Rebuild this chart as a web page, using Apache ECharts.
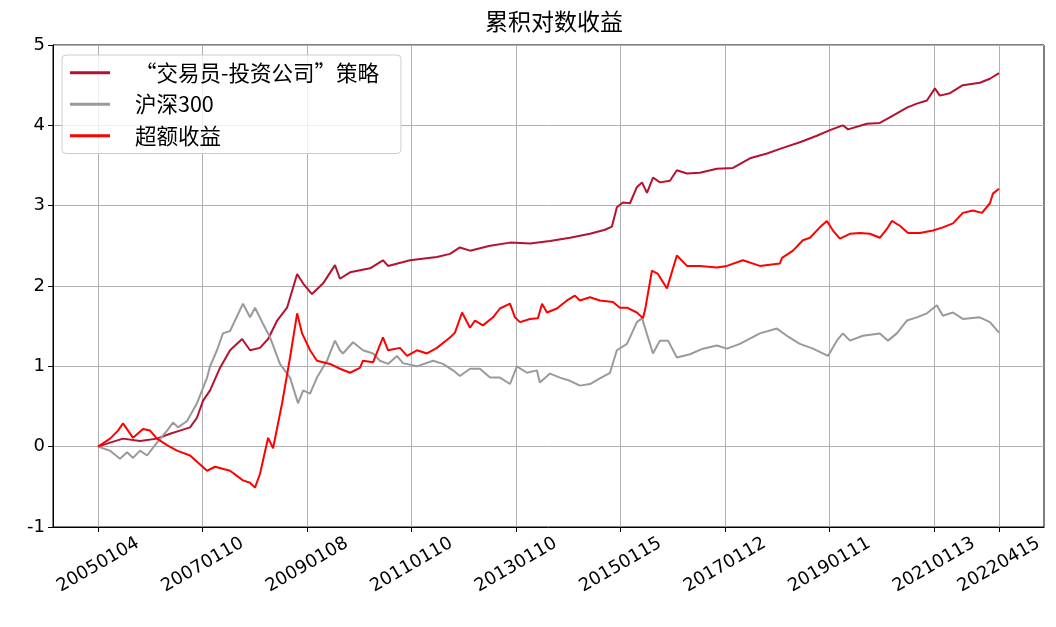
<!DOCTYPE html>
<html><head><meta charset="utf-8">
<script src="https://cdn.jsdelivr.net/npm/echarts@6/dist/echarts.min.js"></script>
<style>html,body{margin:0;padding:0;background:#fff}#c{width:1056px;height:627px}</style>
</head><body><div id="c"></div>
<script>
const titleText = '累积对数收益';
const seriesNames = ['“交易员-投资公司”策略', '沪深300', '超额收益'];
const tickIndex = [0, 486, 972, 1458, 1944, 2430, 2916, 3402, 3888, 4190];
const tickLabels = ['20050104', '20070110', '20090108', '20110110', '20130110', '20150115', '20170112', '20190111', '20210113', '20220415'];

const strategyIdx = [0,56,116,195,274,335,381,428,460,488,521,567,614,670,707,753,791,833,879,926,954,995,1046,1102,1125,1172,1265,1325,1349,1451,1576,1637,1683,1730,1823,1916,2009,2102,2195,2288,2358,2390,2413,2441,2474,2506,2530,2553,2581,2613,2660,2692,2739,2799,2878,2953,3032,3111,3185,3264,3343,3404,3464,3488,3576,3636,3697,3762,3808,3855,3892,3915,3962,4022,4101,4148,4190];
const strategyVal = [0,0.05,0.1,0.07,0.1,0.16,0.2,0.24,0.36,0.57,0.7,0.98,1.2,1.34,1.2,1.23,1.34,1.57,1.73,2.15,2.03,1.9,2.03,2.26,2.09,2.17,2.22,2.32,2.25,2.32,2.36,2.4,2.48,2.44,2.5,2.54,2.53,2.56,2.6,2.65,2.7,2.74,2.98,3.04,3.03,3.23,3.29,3.16,3.35,3.29,3.31,3.44,3.4,3.41,3.46,3.47,3.59,3.65,3.72,3.79,3.87,3.94,4.0,3.95,4.02,4.03,4.12,4.22,4.27,4.31,4.46,4.37,4.4,4.5,4.53,4.58,4.65];

const hs300Idx = [0,56,102,135,163,195,228,274,321,349,372,414,460,507,521,553,581,614,674,707,730,767,800,846,893,930,954,986,1018,1065,1102,1125,1139,1186,1232,1279,1311,1349,1390,1418,1483,1558,1604,1651,1683,1730,1776,1823,1869,1916,1948,1995,2041,2055,2102,2148,2195,2241,2288,2334,2381,2413,2460,2506,2530,2553,2581,2613,2651,2692,2753,2813,2878,2925,2985,3078,3157,3204,3264,3325,3395,3436,3464,3497,3557,3636,3674,3715,3762,3808,3855,3901,3929,3976,4022,4101,4148,4190];
const hs300Val = [0,-0.05,-0.15,-0.07,-0.14,-0.05,-0.11,0.05,0.2,0.3,0.24,0.32,0.54,0.86,1.0,1.2,1.41,1.44,1.78,1.61,1.73,1.53,1.36,1.03,0.86,0.54,0.7,0.66,0.86,1.07,1.32,1.2,1.16,1.3,1.2,1.16,1.07,1.03,1.13,1.04,1.0,1.07,1.03,0.95,0.88,0.97,0.97,0.86,0.86,0.78,1.0,0.92,0.95,0.8,0.91,0.86,0.82,0.76,0.78,0.85,0.92,1.2,1.28,1.55,1.6,1.4,1.16,1.32,1.32,1.11,1.15,1.22,1.26,1.22,1.28,1.41,1.47,1.38,1.28,1.22,1.13,1.32,1.41,1.32,1.38,1.41,1.32,1.41,1.57,1.61,1.66,1.76,1.63,1.67,1.59,1.61,1.55,1.42];

const excessIdx = [0,56,93,116,163,209,242,274,321,367,428,507,544,614,674,707,730,753,791,814,856,893,926,949,986,1018,1079,1125,1172,1218,1232,1279,1325,1349,1404,1437,1483,1530,1576,1637,1660,1693,1730,1753,1790,1837,1869,1916,1939,1962,2009,2046,2065,2088,2134,2181,2218,2241,2288,2334,2395,2427,2460,2506,2534,2544,2576,2604,2646,2692,2739,2799,2878,2925,2999,3078,3171,3181,3232,3278,3311,3357,3390,3418,3450,3497,3543,3590,3636,3669,3692,3729,3767,3822,3883,3929,3976,4022,4069,4111,4148,4162,4190];
const excessVal = [0,0.1,0.2,0.29,0.11,0.22,0.2,0.1,0.02,-0.05,-0.11,-0.3,-0.25,-0.3,-0.42,-0.45,-0.51,-0.34,0.11,-0.02,0.54,1.11,1.66,1.41,1.2,1.07,1.03,0.97,0.92,0.98,1.07,1.05,1.36,1.2,1.23,1.13,1.2,1.16,1.23,1.36,1.42,1.67,1.48,1.57,1.51,1.61,1.72,1.78,1.61,1.55,1.59,1.6,1.78,1.67,1.72,1.82,1.88,1.82,1.86,1.82,1.8,1.73,1.73,1.67,1.6,1.7,2.19,2.15,1.97,2.38,2.25,2.25,2.23,2.25,2.32,2.25,2.28,2.35,2.44,2.57,2.6,2.73,2.81,2.69,2.59,2.65,2.66,2.65,2.6,2.71,2.81,2.75,2.66,2.66,2.69,2.73,2.78,2.91,2.94,2.91,3.03,3.15,3.21];

function pairs(idx, val) { return idx.map((x, i) => [x, val[i]]); }
const labelMap = {};
tickIndex.forEach((v, i) => { labelMap[v] = tickLabels[i]; });

const chart = echarts.init(document.getElementById('c'), null, {renderer: 'canvas'});
const tickFont = 'DejaVu Sans';
chart.setOption({
  animation: false,
  backgroundColor: '#fff',
  title: {
    text: titleText, left: 549, textAlign: 'center', top: 5,
    textStyle: {fontFamily: 'Noto Sans CJK SC', fontWeight: 'normal', fontSize: 23, color: '#000'}
  },
  legend: {
    orient: 'vertical', left: 62, top: 55,
    padding: [7, 22, 7, 8],
    icon: 'rect',
    itemWidth: 40, itemHeight: 3, itemGap: 10,
    borderColor: '#cccccc', borderWidth: 1, borderRadius: 4,
    backgroundColor: 'rgba(255,255,255,0.8)',
    textStyle: {fontFamily: 'Noto Sans CJK SC', fontSize: 21.5, color: '#000', padding: [0, 0, 0, 20]},
    data: seriesNames
  },
  grid: {left: 53, right: 12, top: 45, bottom: 100, show: true, borderColor: '#000', borderWidth: 1, backgroundColor: 'transparent'},
  xAxis: {
    type: 'value', min: -209.5, max: 4399.5,
    axisLine: {show: true, onZero: false, lineStyle: {color: '#000'}},
    axisTick: {show: true, length: 5, lineStyle: {color: '#000'}, customValues: tickIndex},
    axisLabel: {
      customValues: tickIndex, rotate: 30, align: 'center', verticalAlign: 'middle', margin: 38,
      fontFamily: tickFont, fontSize: 18, color: '#000',
      formatter: v => labelMap[v] || ''
    },
    splitLine: {show: true, lineStyle: {color: '#b0b0b0', width: 1}}
  },
  yAxis: {
    type: 'value', min: -1, max: 5, interval: 1,
    axisLine: {show: true, onZero: false, lineStyle: {color: '#000'}},
    axisTick: {show: true, length: 5, lineStyle: {color: '#000'}},
    axisLabel: {fontFamily: tickFont, fontSize: 18, color: '#000', margin: 8},
    splitLine: {show: true, lineStyle: {color: '#b0b0b0', width: 1}}
  },
  series: [
    {name: seriesNames[0], type: 'line', showSymbol: false, symbol: 'none', data: pairs(strategyIdx, strategyVal),
     lineStyle: {color: '#b5122f', width: 2}, itemStyle: {color: '#b5122f'}, z: 2},
    {name: seriesNames[1], type: 'line', showSymbol: false, symbol: 'none', data: pairs(hs300Idx, hs300Val),
     lineStyle: {color: '#9a9a9a', width: 2}, itemStyle: {color: '#9a9a9a'}, z: 3},
    {name: seriesNames[2], type: 'line', showSymbol: false, symbol: 'none', data: pairs(excessIdx, excessVal),
     lineStyle: {color: '#ff0000', width: 2}, itemStyle: {color: '#ff0000'}, z: 4}
  ]
});
</script></body></html>
